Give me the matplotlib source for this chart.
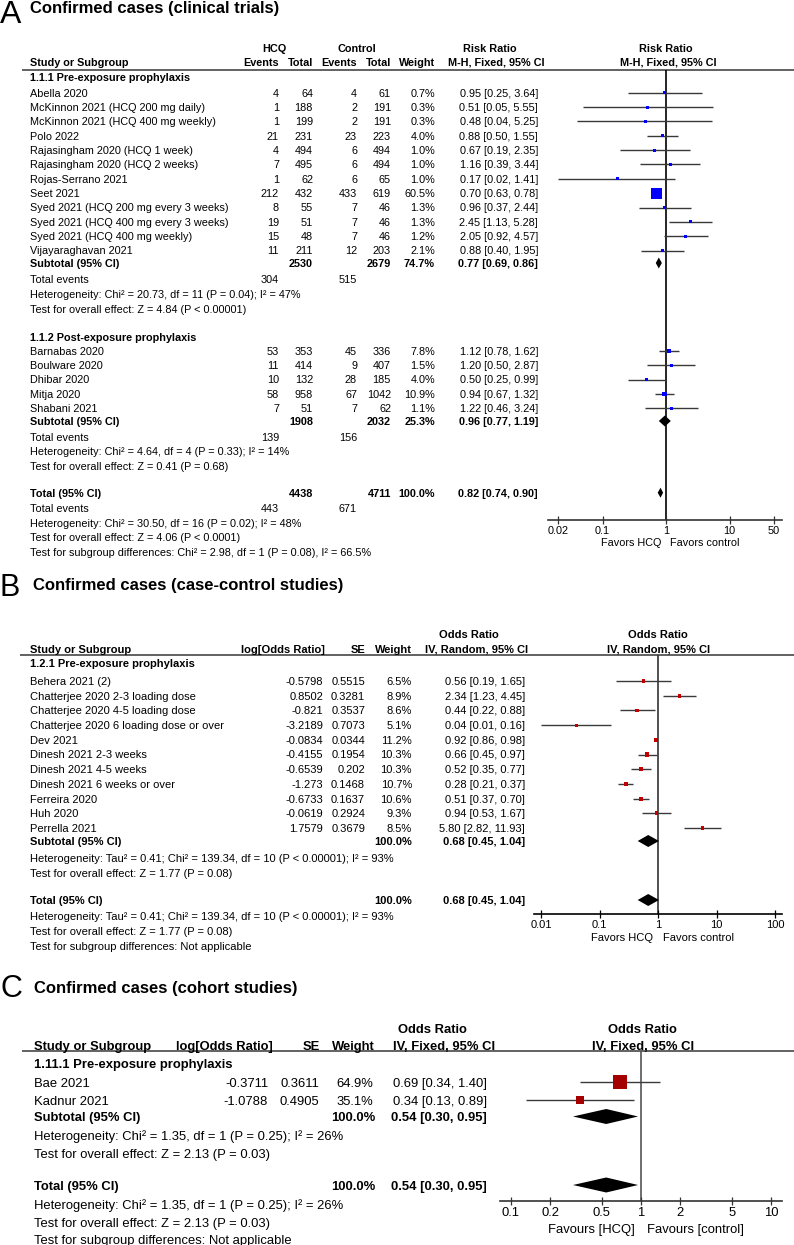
import matplotlib
matplotlib.use("Agg")
import matplotlib.pyplot as plt
from matplotlib.ticker import NullLocator

plt.rcParams['font.family'] = ['Liberation Sans', 'DejaVu Sans']

# ---------------- DATA ----------------
# Panel A: clinical trials
a1_names = ["Abella 2020", "McKinnon 2021 (HCQ 200 mg daily)", "McKinnon 2021 (HCQ 400 mg weekly)",
            "Polo 2022", "Rajasingham 2020 (HCQ 1 week)", "Rajasingham 2020 (HCQ 2 weeks)",
            "Rojas-Serrano 2021", "Seet 2021", "Syed 2021 (HCQ 200 mg every 3 weeks)",
            "Syed 2021 (HCQ 400 mg every 3 weeks)", "Syed 2021 (HCQ 400 mg weekly)", "Vijayaraghavan 2021"]
a1_hcq_ev = [4, 1, 1, 21, 4, 7, 1, 212, 8, 19, 15, 11]
a1_hcq_tot = [64, 188, 199, 231, 494, 495, 62, 432, 55, 51, 48, 211]
a1_ctl_ev = [4, 2, 2, 23, 6, 6, 6, 433, 7, 7, 7, 12]
a1_ctl_tot = [61, 191, 191, 223, 494, 494, 65, 619, 46, 46, 46, 203]
a1_weight = [0.7, 0.3, 0.3, 4.0, 1.0, 1.0, 1.0, 60.5, 1.3, 1.3, 1.2, 2.1]
a1_rr = [0.95, 0.51, 0.48, 0.88, 0.67, 1.16, 0.17, 0.70, 0.96, 2.45, 2.05, 0.88]
a1_lo = [0.25, 0.05, 0.04, 0.50, 0.19, 0.39, 0.02, 0.63, 0.37, 1.13, 0.92, 0.40]
a1_hi = [3.64, 5.55, 5.25, 1.55, 2.35, 3.44, 1.41, 0.78, 2.44, 5.28, 4.57, 1.95]
a1_sub = dict(hcq_tot=2530, ctl_tot=2679, weight=74.7, est=0.77, lo=0.69, hi=0.86, hcq_ev=304, ctl_ev=515)

a2_names = ["Barnabas 2020", "Boulware 2020", "Dhibar 2020", "Mitja 2020", "Shabani 2021"]
a2_hcq_ev = [53, 11, 10, 58, 7]
a2_hcq_tot = [353, 414, 132, 958, 51]
a2_ctl_ev = [45, 9, 28, 67, 7]
a2_ctl_tot = [336, 407, 185, 1042, 62]
a2_weight = [7.8, 1.5, 4.0, 10.9, 1.1]
a2_rr = [1.12, 1.20, 0.50, 0.94, 1.22]
a2_lo = [0.78, 0.50, 0.25, 0.67, 0.46]
a2_hi = [1.62, 2.87, 0.99, 1.32, 3.24]
a2_sub = dict(hcq_tot=1908, ctl_tot=2032, weight=25.3, est=0.96, lo=0.77, hi=1.19, hcq_ev=139, ctl_ev=156)
a_total = dict(hcq_tot=4438, ctl_tot=4711, weight=100.0, est=0.82, lo=0.74, hi=0.90, hcq_ev=443, ctl_ev=671)
a_ticks = [0.02, 0.1, 1, 10, 50]
a_ticklabels = ["0.02", "0.1", "1", "10", "50"]

# Panel B: case-control studies
b_names = ["Behera 2021 (2)", "Chatterjee 2020 2-3 loading dose", "Chatterjee 2020 4-5 loading dose",
           "Chatterjee 2020 6 loading dose or over", "Dev 2021", "Dinesh 2021 2-3 weeks",
           "Dinesh 2021 4-5 weeks", "Dinesh 2021 6 weeks or over", "Ferreira 2020", "Huh 2020",
           "Perrella 2021"]
b_logor = [-0.5798, 0.8502, -0.821, -3.2189, -0.0834, -0.4155, -0.6539, -1.273, -0.6733, -0.0619, 1.7579]
b_se = [0.5515, 0.3281, 0.3537, 0.7073, 0.0344, 0.1954, 0.202, 0.1468, 0.1637, 0.2924, 0.3679]
b_weight = [6.5, 8.9, 8.6, 5.1, 11.2, 10.3, 10.3, 10.7, 10.6, 9.3, 8.5]
b_or = [0.56, 2.34, 0.44, 0.04, 0.92, 0.66, 0.52, 0.28, 0.51, 0.94, 5.80]
b_lo = [0.19, 1.23, 0.22, 0.01, 0.86, 0.45, 0.35, 0.21, 0.37, 0.53, 2.82]
b_hi = [1.65, 4.45, 0.88, 0.16, 0.98, 0.97, 0.77, 0.37, 0.70, 1.67, 11.93]
b_sub = dict(weight=100.0, est=0.68, lo=0.45, hi=1.04)
b_ticks = [0.01, 0.1, 1, 10, 100]
b_ticklabels = ["0.01", "0.1", "1", "10", "100"]

# Panel C: cohort studies
c_names = ["Bae 2021", "Kadnur 2021"]
c_logor = [-0.3711, -1.0788]
c_se = [0.3611, 0.4905]
c_weight = [64.9, 35.1]
c_or = [0.69, 0.34]
c_lo = [0.34, 0.13]
c_hi = [1.40, 0.89]
c_sub = dict(weight=100.0, est=0.54, lo=0.30, hi=0.95)
c_ticks = [0.1, 0.2, 0.5, 1, 2, 5, 10]
c_ticklabels = ["0.1", "0.2", "0.5", "1", "2", "5", "10"]

# ---------------- LAYOUT ----------------
W, H = 794, 1245
fig = plt.figure(figsize=(W / 100, H / 100), dpi=100)
ov = fig.add_axes([0, 0, 1, 1])
ov.set_xlim(0, W)
ov.set_ylim(H, 0)
ov.axis('off')


def T(x, y, s, ha='left', bold=False, size=7.8, color='black'):
    off = size * 100 / 72 * 0.716 / 2
    ov.text(x, y + off, s, ha=ha, va='baseline', fontsize=size,
            fontweight='bold' if bold else 'normal', color=color)


def hline(y, x0, x1, color='#555555', lw=1.3):
    ov.plot([x0, x1], [y, y], color=color, lw=lw, solid_capstyle='butt')


def ci(e, l, h):
    return f"{e:.2f} [{l:.2f}, {h:.2f}]"


def forest_ax(xl, xr, x1, decade, yt, yb, ticks, labels, fs, vcolor, scolor):
    ax = fig.add_axes([xl / W, 1 - yb / H, (xr - xl) / W, (yb - yt) / H])
    ax.set_xscale('log')
    ax.set_xlim(10 ** ((xl - x1) / decade), 10 ** ((xr - x1) / decade))
    ax.set_ylim(yb, yt)
    ax.patch.set_alpha(0)
    for s in ['top', 'left', 'right']:
        ax.spines[s].set_visible(False)
    ax.spines['bottom'].set_color(scolor)
    ax.spines['bottom'].set_linewidth(1.2)
    ax.set_yticks([])
    ax.xaxis.set_minor_locator(NullLocator())
    ax.set_xticks(ticks)
    ax.set_xticklabels(labels)
    ax.tick_params(axis='x', direction='inout', length=6, width=0.9, pad=1,
                   labelsize=fs, color=scolor)
    ax.axvline(1, color=vcolor, lw=1.2, zorder=1)
    return ax


def diamond(ax, e, l, h, y, ht):
    ax.fill([l, e, h, e], [y, y - ht / 2, y, y + ht / 2], color='black', zorder=4,
            lw=0, clip_on=False)


# ================= PANEL A =================
fsA = 7.8
ov.text(0, 23, "A", fontsize=23, va='baseline', ha='left')
ov.text(30, 13.5, "Confirmed cases (clinical trials)", fontsize=12, fontweight='bold', va='baseline')

T(274, 48, "HCQ", 'center', True, fsA)
T(357, 48, "Control", 'center', True, fsA)
T(490, 48, "Risk Ratio", 'center', True, fsA)
T(666, 48, "Risk Ratio", 'center', True, fsA)
T(30, 62, "Study or Subgroup", 'left', True, fsA)
for x, s in [(279, "Events"), (313, "Total"), (357, "Events"), (391, "Total"), (435, "Weight")]:
    T(x, 62, s, 'right', True, fsA)
T(496, 62, "M-H, Fixed, 95% CI", 'center', True, fsA)
T(668, 62, "M-H, Fixed, 95% CI", 'center', True, fsA)
hline(70, 22, 794)

axA = forest_ax(548, 782, 666, 63.5, 70, 520, a_ticks, a_ticklabels, fsA, 'black', '#333333')


def a_rows(names, hev, htot, cev, ctot, wt, rr, lo, hi, y0, step):
    ys = []
    for i, n in enumerate(names):
        y = y0 + i * step
        ys.append(y)
        T(30, y, n, size=fsA)
        T(279, y, str(hev[i]), 'right', size=fsA)
        T(313, y, str(htot[i]), 'right', size=fsA)
        T(357, y, str(cev[i]), 'right', size=fsA)
        T(391, y, str(ctot[i]), 'right', size=fsA)
        T(435, y, f"{wt[i]:.1f}%", 'right', size=fsA)
        T(538, y, ci(rr[i], lo[i], hi[i]), 'right', size=fsA)
    axA.hlines(ys, lo, hi, color='#383838', lw=1.0, zorder=2)
    sizes = [(max(3.0, 1.42 * w ** 0.5) * 0.72) ** 2 for w in wt]
    axA.scatter(rr, ys, s=sizes, marker='s', color='#0000ff', lw=0, zorder=3, clip_on=False)


def a_sub(label, d, y):
    T(30, y, label, bold=True, size=fsA)
    T(313, y, str(d['hcq_tot']), 'right', True, fsA)
    T(391, y, str(d['ctl_tot']), 'right', True, fsA)
    T(435, y, f"{d['weight']:.1f}%", 'right', True, fsA)
    T(538, y, ci(d['est'], d['lo'], d['hi']), 'right', True, fsA)


T(30, 77.5, "1.1.1 Pre-exposure prophylaxis", bold=True, size=fsA)
a_rows(a1_names, a1_hcq_ev, a1_hcq_tot, a1_ctl_ev, a1_ctl_tot, a1_weight, a1_rr, a1_lo, a1_hi, 92.7, 14.35)
a_sub("Subtotal (95% CI)", a1_sub, 263)
diamond(axA, a1_sub['est'], a1_sub['lo'], a1_sub['hi'], 263, 11)
T(30, 279.5, "Total events", size=fsA)
T(279, 279.5, str(a1_sub['hcq_ev']), 'right', size=fsA)
T(357, 279.5, str(a1_sub['ctl_ev']), 'right', size=fsA)
T(30, 294, "Heterogeneity: Chi² = 20.73, df = 11 (P = 0.04); I² = 47%", size=fsA)
T(30, 308.7, "Test for overall effect: Z = 4.84 (P < 0.00001)", size=fsA)

T(30, 337, "1.1.2 Post-exposure prophylaxis", bold=True, size=fsA)
a_rows(a2_names, a2_hcq_ev, a2_hcq_tot, a2_ctl_ev, a2_ctl_tot, a2_weight, a2_rr, a2_lo, a2_hi, 351, 14.3)
a_sub("Subtotal (95% CI)", a2_sub, 421)
diamond(axA, a2_sub['est'], a2_sub['lo'], a2_sub['hi'], 421, 11)
T(30, 436.7, "Total events", size=fsA)
T(279, 436.7, str(a2_sub['hcq_ev']), 'right', size=fsA)
T(357, 436.7, str(a2_sub['ctl_ev']), 'right', size=fsA)
T(30, 451.5, "Heterogeneity: Chi² = 4.64, df = 4 (P = 0.33); I² = 14%", size=fsA)
T(30, 466.3, "Test for overall effect: Z = 0.41 (P = 0.68)", size=fsA)

a_sub("Total (95% CI)", a_total, 492.7)
diamond(axA, a_total['est'], a_total['lo'], a_total['hi'], 492.7, 10)
T(30, 508, "Total events", size=fsA)
T(279, 508, str(a_total['hcq_ev']), 'right', size=fsA)
T(357, 508, str(a_total['ctl_ev']), 'right', size=fsA)
T(30, 522.7, "Heterogeneity: Chi² = 30.50, df = 16 (P = 0.02); I² = 48%", size=fsA)
T(30, 537, "Test for overall effect: Z = 4.06 (P < 0.0001)", size=fsA)
T(30, 551.7, "Test for subgroup differences: Chi² = 2.98, df = 1 (P = 0.08), I² = 66.5%", size=fsA)
T(661, 542, "Favors HCQ", 'right', size=fsA)
T(670, 542, "Favors control", 'left', size=fsA)

# ================= PANEL B =================
fsB = 8.0
ov.text(0, 595.5, "B", fontsize=22, va='baseline', ha='left')
ov.text(33, 590, "Confirmed cases (case-control studies)", fontsize=12, fontweight='bold', va='baseline')
T(469, 634, "Odds Ratio", 'center', True, fsB)
T(658, 634, "Odds Ratio", 'center', True, fsB)
T(30, 649, "Study or Subgroup", 'left', True, fsB)
T(325, 649, "log[Odds Ratio]", 'right', True, fsB)
T(365, 649, "SE", 'right', True, fsB)
T(412, 649, "Weight", 'right', True, fsB)
T(477, 649, "IV, Random, 95% CI", 'center', True, fsB)
T(659, 649, "IV, Random, 95% CI", 'center', True, fsB)
hline(655, 20, 794)

axB = forest_ax(534, 782, 658, 58.5, 655, 914, b_ticks, b_ticklabels, fsB, '#333333', 'black')
T(30, 663.5, "1.2.1 Pre-exposure prophylaxis", bold=True, size=fsB)
ysB = []
for i, n in enumerate(b_names):
    y = 681 + i * 14.7
    ysB.append(y)
    T(30, y, n, size=fsB)
    T(323, y, f"{b_logor[i]:g}", 'right', size=fsB)
    T(365, y, f"{b_se[i]:g}", 'right', size=fsB)
    T(412, y, f"{b_weight[i]:.1f}%", 'right', size=fsB)
    T(525, y, ci(b_or[i], b_lo[i], b_hi[i]), 'right', size=fsB)
axB.hlines(ysB, b_lo, b_hi, color='#3a3a3a', lw=1.0, zorder=2)
axB.scatter(b_or, ysB, s=[(max(3.2, 1.25 * w ** 0.5) * 0.72) ** 2 for w in b_weight], marker='s',
            color='#c00000', lw=0, zorder=3, clip_on=False)
T(30, 841.5, "Subtotal (95% CI)", bold=True, size=fsB)
T(412, 841.5, f"{b_sub['weight']:.1f}%", 'right', True, fsB)
T(525, 841.5, ci(b_sub['est'], b_sub['lo'], b_sub['hi']), 'right', True, fsB)
diamond(axB, b_sub['est'], b_sub['lo'], b_sub['hi'], 841, 12)
T(30, 858.3, "Heterogeneity: Tau² = 0.41; Chi² = 139.34, df = 10 (P < 0.00001); I² = 93%", size=fsB)
T(30, 872.7, "Test for overall effect: Z = 1.77 (P = 0.08)", size=fsB)
T(30, 900, "Total (95% CI)", bold=True, size=fsB)
T(412, 900, f"{b_sub['weight']:.1f}%", 'right', True, fsB)
T(525, 900, ci(b_sub['est'], b_sub['lo'], b_sub['hi']), 'right', True, fsB)
diamond(axB, b_sub['est'], b_sub['lo'], b_sub['hi'], 900, 12)
T(30, 916.5, "Heterogeneity: Tau² = 0.41; Chi² = 139.34, df = 10 (P < 0.00001); I² = 93%", size=fsB)
T(30, 931, "Test for overall effect: Z = 1.77 (P = 0.08)", size=fsB)
T(30, 946, "Test for subgroup differences: Not applicable", size=fsB)
T(653, 937, "Favors HCQ", 'right', size=fsB)
T(663, 937, "Favors control", 'left', size=fsB)

# ================= PANEL C =================
fsC = 9.4
ov.text(1, 997, "C", fontsize=22, va='baseline', ha='left')
ov.text(34, 993, "Confirmed cases (cohort studies)", fontsize=12, fontweight='bold', va='baseline')
T(432, 1028, "Odds Ratio", 'center', True, fsC)
T(642, 1028, "Odds Ratio", 'center', True, fsC)
T(34, 1045, "Study or Subgroup", 'left', True, fsC)
T(273, 1045, "log[Odds Ratio]", 'right', True, fsC)
T(320, 1045, "SE", 'right', True, fsC)
T(375, 1045, "Weight", 'right', True, fsC)
T(444, 1045, "IV, Fixed, 95% CI", 'center', True, fsC)
T(643, 1045, "IV, Fixed, 95% CI", 'center', True, fsC)
hline(1051, 22, 794)

axC = forest_ax(500, 782, 641, 130, 1051, 1201, c_ticks, c_ticklabels, fsC, '#555555', '#333333')
T(34, 1063, "1.11.1 Pre-exposure prophylaxis", bold=True, size=fsC)
ysC = []
for i, n in enumerate(c_names):
    y = 1082 + i * 18
    ysC.append(y)
    T(34, y, n, size=fsC)
    T(268, y, f"{c_logor[i]:g}", 'right', size=fsC)
    T(319, y, f"{c_se[i]:g}", 'right', size=fsC)
    T(373, y, f"{c_weight[i]:.1f}%", 'right', size=fsC)
    T(487, y, ci(c_or[i], c_lo[i], c_hi[i]), 'right', size=fsC)
axC.hlines(ysC, c_lo, c_hi, color='#3a3a3a', lw=1.0, zorder=2)
axC.scatter(c_or, ysC, s=[(0.61 * w ** 0.75 * 0.72) ** 2 for w in c_weight], marker='s',
            color='#a50000', lw=0, zorder=3, clip_on=False)
T(34, 1116.5, "Subtotal (95% CI)", bold=True, size=fsC)
T(375, 1116.5, f"{c_sub['weight']:.1f}%", 'right', True, fsC)
T(487, 1116.5, ci(c_sub['est'], c_sub['lo'], c_sub['hi']), 'right', True, fsC)
diamond(axC, c_sub['est'], c_sub['lo'], c_sub['hi'], 1116.5, 15)
T(34, 1135, "Heterogeneity: Chi² = 1.35, df = 1 (P = 0.25); I² = 26%", size=fsC)
T(34, 1153, "Test for overall effect: Z = 2.13 (P = 0.03)", size=fsC)
T(34, 1185, "Total (95% CI)", bold=True, size=fsC)
T(375, 1185, f"{c_sub['weight']:.1f}%", 'right', True, fsC)
T(487, 1185, ci(c_sub['est'], c_sub['lo'], c_sub['hi']), 'right', True, fsC)
diamond(axC, c_sub['est'], c_sub['lo'], c_sub['hi'], 1185, 15)
T(34, 1204, "Heterogeneity: Chi² = 1.35, df = 1 (P = 0.25); I² = 26%", size=fsC)
T(34, 1222, "Test for overall effect: Z = 2.13 (P = 0.03)", size=fsC)
T(34, 1239, "Test for subgroup differences: Not applicable", size=fsC)
T(635, 1228, "Favours [HCQ]", 'right', size=fsC)
T(647, 1228, "Favours [control]", 'left', size=fsC)

fig.savefig("out.png", dpi=100)
